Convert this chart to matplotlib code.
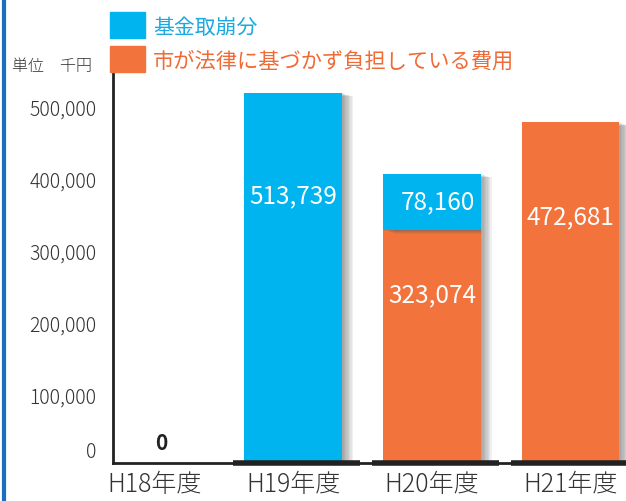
import numpy as np
import matplotlib
matplotlib.use("Agg")
import matplotlib.pyplot as plt
import matplotlib.patheffects as pe
import matplotlib.transforms as mtransforms
from matplotlib.lines import Line2D
from matplotlib.patches import Rectangle

plt.rcParams['font.family'] = ['Noto Sans CJK JP', 'DejaVu Sans']

# data
years = ["H18年度", "H19年度", "H20年度", "H21年度"]
fund_withdrawal = [0, 513739, 78160, 0]        # 基金取崩分
city_burden = [0, 0, 323074, 472681]           # 市が法律に基づかず負担している費用
yticks = [0, 100000, 200000, 300000, 400000, 500000]

blue = "#00b4ef"
orange = "#f2743c"

fig = plt.figure(figsize=(6.26, 5.01), dpi=100)
ax = fig.add_axes([113 / 626, 38 / 501, 513 / 626, 390 / 501])

x = np.arange(len(years))
w = 0.705
# soft drop shadow built from several faint offset copies
shadow = [pe.SimplePatchShadow(offset=(k, -k / 3), shadow_rgbFace="#606060", alpha=0.09)
          for k in range(8, 0, -1)] + [pe.Normal()]

b1 = ax.bar(x, city_burden, w, color=orange, zorder=2)
b2 = ax.bar(x, fund_withdrawal, w, bottom=city_burden, color=blue, zorder=3)
for b in list(b1) + list(b2):
    if b.get_height() > 0:
        b.set_path_effects(shadow)

# value labels
for i in range(len(years)):
    segs = [(city_burden[i], 0), (fund_withdrawal[i], city_burden[i])]
    for h, bot in segs:
        if h <= 0:
            continue
        frac = 0.72 if h > 150000 else 0.5
        dx = 0 if h > 150000 else 0.04
        ax.text(x[i] + dx, bot + frac * h, f"{h:,}", color="white", ha="center",
                va="center", fontsize=17.5, zorder=5)
    if fund_withdrawal[i] + city_burden[i] == 0:
        ax.text(x[i] + 0.05, 13000, "0", color="#222222", ha="center", va="bottom",
                fontsize=15, fontweight="bold", zorder=5)

# thick base lines under bars
for i in range(len(years)):
    if fund_withdrawal[i] + city_burden[i] > 0:
        ax.hlines(0, x[i] - w / 2 - 0.08, x[i] + w / 2 + 0.13, color="#222222",
                  lw=4, zorder=4, clip_on=False)

ax.set_xlim(-0.3, 3.4)
ax.set_ylim(0, 541000)
ax.set_yticks(yticks)
ax.set_yticklabels([f"{v:,}" for v in yticks], fontsize=14, color="#333333",
                   fontweight="light")
ax.set_xticks(x)
ax.set_xticklabels(years, fontsize=18, color="#333333", fontweight="light")
ax.tick_params(axis="y", length=0, pad=12)
ax.tick_params(axis="x", length=0, pad=6)
for lab, v in zip(ax.get_yticklabels(), yticks):
    dy = 13 if v == 0 else -5
    lab.set_transform(lab.get_transform() +
                      mtransforms.ScaledTranslation(0, dy / 100, fig.dpi_scale_trans))
for s in ["top", "right"]:
    ax.spines[s].set_visible(False)
ax.spines["left"].set_linewidth(2)
ax.spines["bottom"].set_linewidth(2)
ax.spines["left"].set_color("#222222")
ax.spines["bottom"].set_color("#222222")

# legend
fig.patches.append(Rectangle((110 / 626, 1 - 38 / 501), 35 / 626, 26 / 501,
                             transform=fig.transFigure, color=blue))
fig.patches.append(Rectangle((110 / 626, 1 - 72 / 501), 35 / 626, 26 / 501,
                             transform=fig.transFigure, color=orange))
fig.text(153 / 626, 1 - 28 / 501, "基金取崩分", color="#1aa9e0", fontsize=15, va="center")
fig.text(153 / 626, 1 - 62 / 501, "市が法律に基づかず負担している費用", color="#f06a35",
         fontsize=15.3, va="center")
fig.text(12 / 626, 1 - 66 / 501, "単位\u3000千円", color="#333333", fontsize=11.5,
         va="center", fontweight="light")

# blue border at left
fig.lines.append(Line2D([4 / 626, 4 / 626], [0, 1], transform=fig.transFigure,
                        color="#1a6fc0", lw=3))

fig.savefig("out.png", dpi=100)
